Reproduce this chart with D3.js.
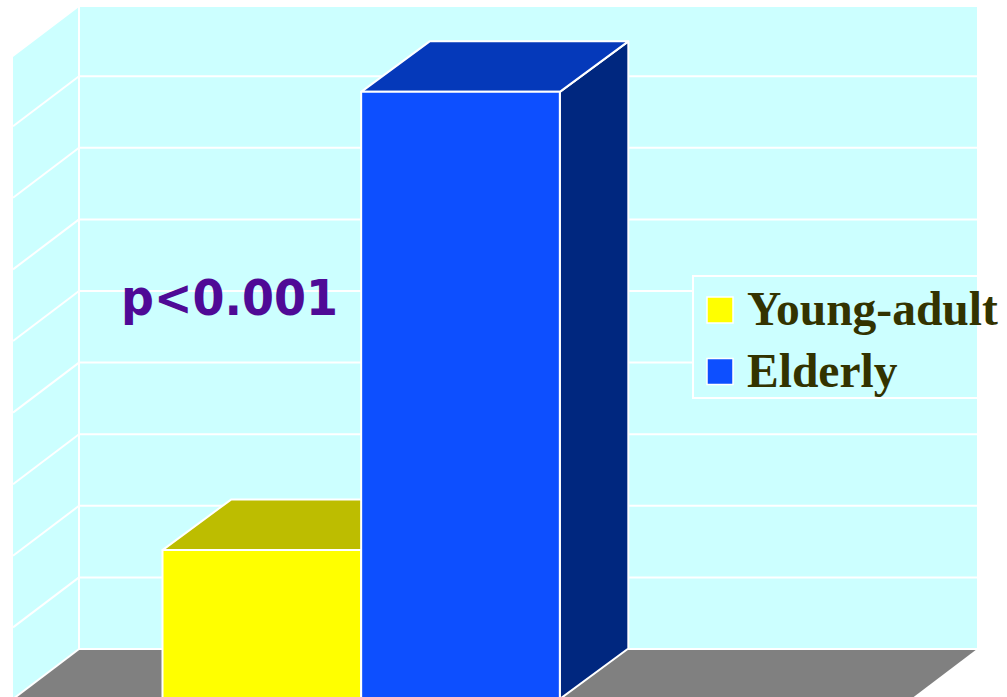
<!DOCTYPE html>
<html>
<head>
<meta charset="utf-8">
<script src="https://cdn.jsdelivr.net/npm/d3@7"></script>
<style>
  html, body { margin: 0; padding: 0; background: #fff; overflow: hidden; }
  svg { display: block; }
</style>
</head>
<body>
<script>
// Data
const seriesNames = ["Young-adult", "Elderly"];
const seriesValues = [2.08, 8.48];
const seriesColors = ["#ffff00", "#0d4fff"];
const topColors = ["#bdbd00", "#0539ba"];
const sideColors = ["#808000", "#00277f"];
// chart keeps an empty third slot, so the bars sit left of centre
const slots = ["Young-adult", "Elderly", "(empty)"];
const gridValues = [0, 1, 2, 3, 4, 5, 6, 7, 8];
const wallTop = 8.967;  // wall stops just short of the 9 line

const width = 1007, height = 697;
const depthX = 66, depthY = 50;      // 3d offset of the back wall
const barDepthX = 68.5, barDepthY = 50.5;

const svg = d3.select("body")
  .append("svg")
  .attr("width", width)
  .attr("height", height);

// scales on the front plane
const x = d3.scaleBand().domain(slots).range([13.5, 907.5]).paddingInner(0).paddingOuter(0.75);
const y = d3.scaleLinear().domain([0, 9]).range([699, 54.6]);

const poly = pts => pts.map(p => p.join(",")).join(" ");

// walls
const x0 = 13, x1 = 911;
svg.append("polygon")
  .attr("points", poly([[x0, y(0)], [x0, y(wallTop)], [x0 + depthX, y(wallTop) - depthY], [x1 + depthX, y(wallTop) - depthY], [x1 + depthX, y(0) - depthY], [x0 + depthX, y(0) - depthY]]))
  .attr("fill", "#ccffff");

// floor
svg.append("polygon")
  .attr("points", poly([[x0, y(0)], [x0 + depthX, y(0) - depthY], [x1 + depthX, y(0) - depthY], [x1, y(0)]]))
  .attr("fill", "#808080");

// gridlines, back wall and side wall
const grid = svg.append("g").attr("stroke", "#fff").attr("stroke-width", 2).attr("fill", "none");
grid.selectAll("line.back")
  .data(gridValues)
  .enter().append("line")
  .attr("class", "back")
  .attr("x1", x0 + depthX)
  .attr("x2", x1 + depthX)
  .attr("y1", d => y(d) - depthY)
  .attr("y2", d => y(d) - depthY);
grid.selectAll("line.side")
  .data(gridValues)
  .enter().append("line")
  .attr("class", "side")
  .attr("x1", x0)
  .attr("x2", x0 + depthX)
  .attr("y1", d => y(d))
  .attr("y2", d => y(d) - depthY);
grid.append("line")
  .attr("x1", x0 + depthX).attr("x2", x0 + depthX)
  .attr("y1", y(wallTop) - depthY).attr("y2", y(0) - depthY);

// bars
const bars = svg.selectAll("g.bar")
  .data(seriesNames.map((name, i) => ({ name, value: seriesValues[i], i })))
  .enter().append("g")
  .attr("class", "bar")
  .attr("stroke", "#fff")
  .attr("stroke-width", 2)
  .attr("stroke-linejoin", "round");

bars.append("polygon")
  .attr("fill", d => sideColors[d.i])
  .attr("points", d => {
    const r = x(d.name) + x.bandwidth();
    return poly([[r, y(0)], [r, y(d.value)], [r + barDepthX, y(d.value) - barDepthY], [r + barDepthX, y(0) - barDepthY]]);
  });
bars.append("polygon")
  .attr("fill", d => topColors[d.i])
  .attr("points", d => {
    const l = x(d.name), r = l + x.bandwidth();
    return poly([[l, y(d.value)], [l + barDepthX, y(d.value) - barDepthY], [r + barDepthX, y(d.value) - barDepthY], [r, y(d.value)]]);
  });
bars.append("rect")
  .attr("fill", d => seriesColors[d.i])
  .attr("x", d => x(d.name))
  .attr("y", d => y(d.value))
  .attr("width", x.bandwidth())
  .attr("height", d => y(0) - y(d.value));

// annotation
svg.append("text")
  .attr("x", 121)
  .attr("y", 315)
  .attr("font-family", "'DejaVu Sans', Verdana, sans-serif")
  .attr("font-weight", "bold")
  .attr("font-size", 50)
  .attr("textLength", 217)
  .attr("lengthAdjust", "spacingAndGlyphs")
  .attr("fill", "#4f0a96")
  .text("p<0.001");

// legend
const legend = svg.append("g");
legend.append("rect")
  .attr("x", 693).attr("y", 276)
  .attr("width", 285).attr("height", 122)
  .attr("fill", "#ccffff")
  .attr("stroke", "#fff").attr("stroke-width", 2);
const legendY = d3.scalePoint().domain(seriesNames).range([310, 371.5]);
const items = legend.selectAll("g.item")
  .data(seriesNames)
  .enter().append("g")
  .attr("class", "item")
  .attr("transform", d => `translate(0,${legendY(d)})`);
items.append("rect")
  .attr("x", 707).attr("y", -13)
  .attr("width", 26).attr("height", 26)
  .attr("fill", (d, i) => seriesColors[i])
  .attr("stroke", "#fff").attr("stroke-width", 1.5);
items.append("text")
  .attr("x", 747)
  .attr("y", 15)
  .attr("font-family", "'Liberation Serif', 'Times New Roman', serif")
  .attr("font-weight", "bold")
  .attr("font-size", 47.5)
  .attr("fill", "#333300")
  .text(d => d);
</script>
</body>
</html>
